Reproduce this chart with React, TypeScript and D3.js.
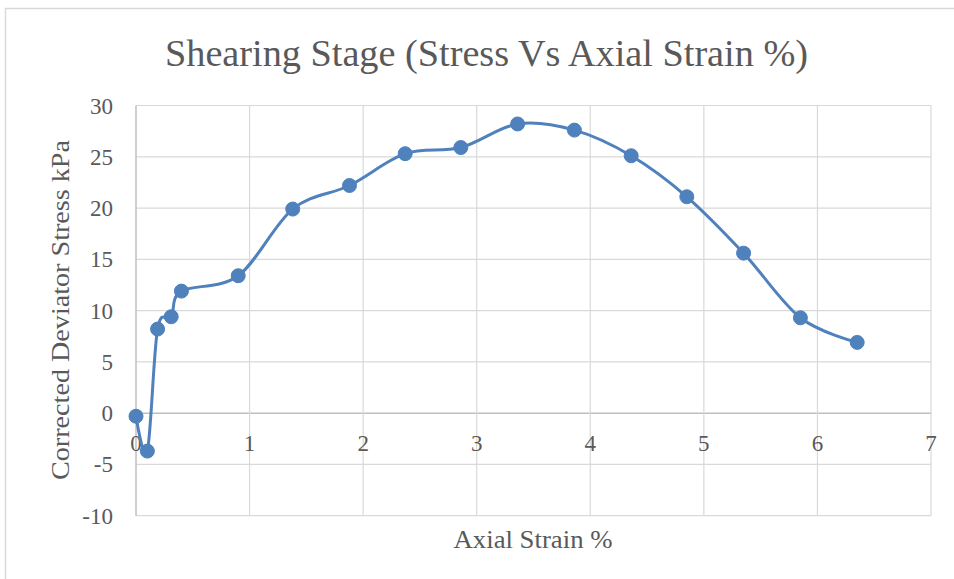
import React from "react";
import * as d3 from "d3";

const strain = [0, 0.1, 0.19, 0.31, 0.4, 0.9, 1.38, 1.88, 2.37, 2.86, 3.36, 3.86, 4.36, 4.85, 5.35, 5.85, 6.35];
const stress = [-0.3, -3.7, 8.2, 9.4, 11.9, 13.4, 19.9, 22.2, 25.3, 25.9, 28.2, 27.6, 25.1, 21.1, 15.6, 9.3, 6.9];
const xTicks = [0, 1, 2, 3, 4, 5, 6, 7];
const yTicks = [-10, -5, 0, 5, 10, 15, 20, 25, 30];
const title = "Shearing Stage (Stress Vs Axial Strain %)";
const xTitle = "Axial Strain %";
const yTitle = "Corrected Deviator Stress kPa";

const W = 954, H = 579;
const FONT = "'Liberation Serif', 'DejaVu Serif', serif";

export default function App() {
  const x = d3.scaleLinear().domain([0, 7]).range([136, 931]);
  const y = d3.scaleLinear().domain([-10, 30]).range([515.7, 105.5]);
  const pts = strain.map((s, i) => [s, stress[i]] as [number, number]);
  const line = d3.line<[number, number]>()
    .x(d => x(d[0]))
    .y(d => y(d[1]))
    .curve(d3.curveCardinal.tension(0));
  const grid = "#d9d9d9";
  const axis = "#bfbfbf";
  const text = "#595959";
  const blue = "#4f81bd";
  return (
    <svg width={W} height={H} style={{ position: "absolute", left: 0, top: 0 }} fontFamily={FONT}>
      <rect x={0} y={0} width={W} height={H} fill="#fff" />
      <rect x={5.5} y={8.5} width={W + 10} height={H + 10} fill="none" stroke="#d9d9d9" strokeWidth={1.5} />
      {yTicks.map(t => (
        <line key={"gy" + t} x1={x(0)} x2={x(7)} y1={y(t)} y2={y(t)} stroke={t === 0 ? axis : grid} strokeWidth={t === 0 ? 1.5 : 1.2} />
      ))}
      {xTicks.map(t => (
        <line key={"gx" + t} x1={x(t)} x2={x(t)} y1={y(-10)} y2={y(30)} stroke={t === 0 ? axis : grid} strokeWidth={t === 0 ? 1.5 : 1.2} />
      ))}
      {yTicks.map(t => (
        <text key={"ty" + t} x={113} y={y(t)} dy="0.35em" textAnchor="end" fontSize={23} fill={text}>{t}</text>
      ))}
      {xTicks.map(t => (
        <text key={"tx" + t} x={x(t)} y={y(0) + 30} dy="0.35em" textAnchor="middle" fontSize={23} fill={text}>{t}</text>
      ))}
      <path d={line(pts) || ""} fill="none" stroke={blue} strokeWidth={3} strokeLinejoin="round" strokeLinecap="round" />
      {pts.map((p, i) => (
        <circle key={"m" + i} cx={x(p[0])} cy={y(p[1])} r={7} fill={blue} stroke={blue} strokeWidth={1} />
      ))}
      <text x={486.5} y={53} dy="0.35em" textAnchor="middle" fontSize={38} fill={text} textLength={643} lengthAdjust="spacingAndGlyphs">{title}</text>
      <text x={533} y={539} dy="0.35em" textAnchor="middle" fontSize={26} fill={text} textLength={159} lengthAdjust="spacingAndGlyphs">{xTitle}</text>
      <text transform={`translate(60,310) rotate(-90)`} dy="0.35em" textAnchor="middle" fontSize={26} fill={text} textLength={340} lengthAdjust="spacingAndGlyphs">{yTitle}</text>
    </svg>
  );
}
